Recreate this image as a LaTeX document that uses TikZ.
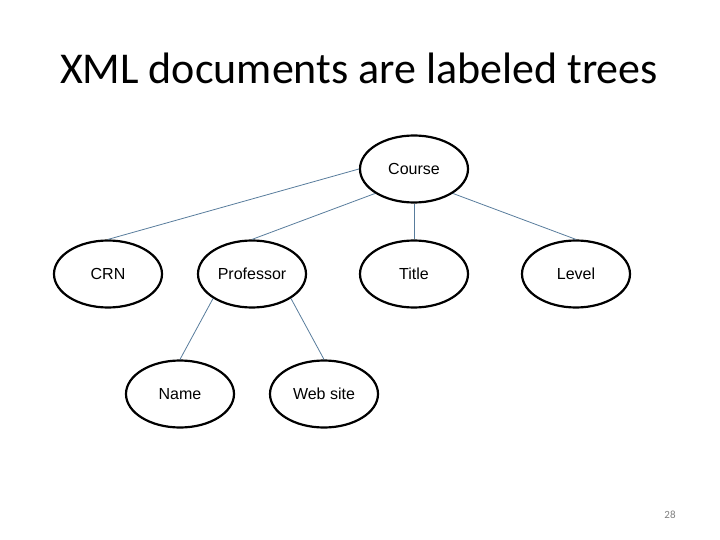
\documentclass[tikz,border=0pt]{standalone}
\usepackage{fontspec}
\setmainfont{Liberation Sans}
\newfontfamily\slidefont{Carlito}
\usepackage{xcolor}
\usetikzlibrary{shapes.geometric}
\definecolor{linkblue}{RGB}{88,124,156}

\begin{document}
\begin{tikzpicture}[x=1pt, y=-1pt,
    elem/.style={draw, ellipse, line width=2.2pt, minimum width=108pt, minimum height=67pt, inner sep=0pt, font=\fontsize{16}{18}\selectfont},
    link/.style={draw=linkblue, line width=0.8pt}]
    \useasboundingbox (0,0) rectangle (720,540);
    % Title
    \node (title) at (359,68) {\slidefont\fontsize{44}{50}\selectfont XML documents are labeled trees};
    % Nodes
    \node [elem] (course) at (414,169) {Course};
    \node [elem] (crn) at (108,274) {CRN};
    \node [elem] (professor) at (252,274) {Professor};
    \node [elem] (titlenode) at (414,274) {Title};
    \node [elem] (level) at (576,274) {Level};
    \node [elem] (name) at (180,394) {Name};
    \node [elem] (website) at (324,394) {Web site};
    \node [text=gray] (page) at (670,515) {\slidefont\fontsize{11}{13}\selectfont 28};

    % Lines
    \draw [link] (course.west) -- (crn.north);
    \draw [link] (course.south west) -- (professor.north);
    \draw [link] (course.south) -- (titlenode.north);
    \draw [link] (course.south east) -- (level.north);
    \draw [link] (professor.south west) -- (name.north);
    \draw [link] (professor.south east) -- (website.north);
\end{tikzpicture}
\end{document}
